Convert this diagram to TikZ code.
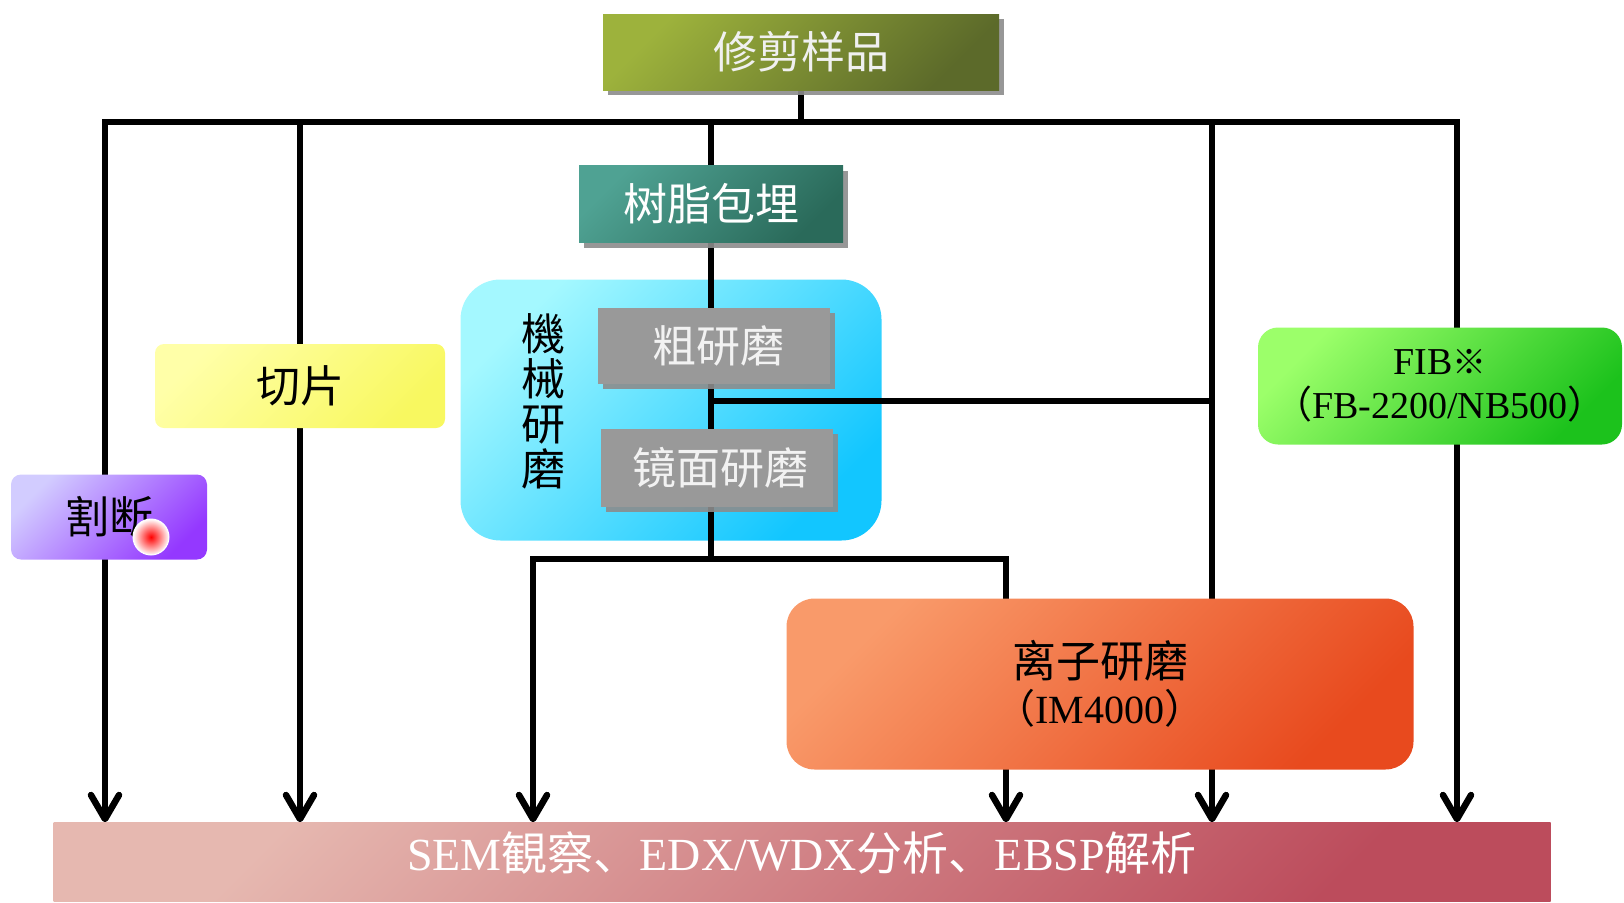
\documentclass[tikz,border=0pt]{standalone}
\usepackage{fontspec}
\setmainfont{Liberation Serif}
\newfontfamily\cjk{Noto Sans CJK SC}
\usetikzlibrary{arrows.meta,shadows}
\pgfdeclarelayer{back}
\pgfdeclarelayer{wires}
\pgfsetlayers{back,wires,main}
\definecolor{trimA}{HTML}{9DB23C}
\definecolor{trimB}{HTML}{5C6A2A}
\definecolor{resinA}{HTML}{4FA293}
\definecolor{resinB}{HTML}{2A6A5A}
\definecolor{cutA}{HTML}{FFFFA8}
\definecolor{cutB}{HTML}{F8F860}
\definecolor{sevA}{HTML}{D2CCFF}
\definecolor{sevB}{HTML}{9438FF}
\definecolor{mechA}{HTML}{A4F8FF}
\definecolor{mechB}{HTML}{12C6FF}
\definecolor{grayBox}{HTML}{999999}
\definecolor{ionA}{HTML}{F99A6A}
\definecolor{ionB}{HTML}{E84A1E}
\definecolor{fibA}{HTML}{9CFF6A}
\definecolor{fibB}{HTML}{1CC21C}
\definecolor{barA}{HTML}{E6B8B0}
\definecolor{barB}{HTML}{BC4C5C}
\tikzset{
  x=1pt, y=-1pt,
  grad/.style 2 args={top color=#1, bottom color=#2, shading angle=45},
  shadowed/.style={drop shadow={shadow xshift=5pt, shadow yshift=-5pt, fill=black!45, opacity=0.9}},
  zh/.style={font=\cjk\fontsize{44}{48}\selectfont},
  lat/.style={font=\fontsize{40}{44}\selectfont},
  box/.style={inner sep=0pt, align=center},
  wire/.style={line width=5.5pt, black, line cap=rect},
  arr/.style={-{Straight Barb[length=24pt, width=28pt, line width=6.5pt, round]}},
}
\begin{document}
\begin{tikzpicture}
\useasboundingbox (0,0) rectangle (1624,902);
% nodes
\node[box, shadowed, grad={trimA}{trimB}, minimum width=396pt, minimum height=76pt, zh, text=white!94!black] (trim) at (801,52) {修剪样品};
\node[box, shadowed, grad={resinA}{resinB}, minimum width=264pt, minimum height=77pt, zh, text=white] (resin) at (711,204) {树脂包埋};
\node[box, grad={cutA}{cutB}, rounded corners=9pt, minimum width=290pt, minimum height=84pt, zh] (qiepian) at (300,386) {切片};
\node[box, grad={sevA}{sevB}, rounded corners=10pt, minimum width=196pt, minimum height=85pt, zh] (sever) at (109,517) {割断};
\node[circle, inner sep=0pt, minimum size=36pt, shading=radial, inner color=red, outer color=white, draw=white, line width=1pt] (dot) at (151,537) {};
\begin{pgfonlayer}{back}
\node[box, grad={mechA}{mechB}, rounded corners=40pt, minimum width=421pt, minimum height=261pt] (mech) at (671,410) {};
\end{pgfonlayer}
\node[box, zh, font=\cjk\fontsize{44}{45}\selectfont] (mechlabel) at (543,401) {機\\械\\研\\磨};
\node[box, shadowed, fill=grayBox, minimum width=232pt, minimum height=76pt, zh, text=white!95!black] (coarse) at (714,346) {\hspace*{8pt}粗研磨};
\node[box, shadowed, fill=grayBox, minimum width=232pt, minimum height=78pt, zh, text=white!95!black] (mirror) at (717,468) {\hspace*{6pt}镜面研磨};
\node[box, grad={ionA}{ionB}, rounded corners=28pt, minimum width=627pt, minimum height=171pt, lat] (ion) at (1100,684) {{\cjk\fontsize{44}{48}\selectfont 离子研磨}\\[2pt]{\cjk （}IM4000{\cjk ）}};
\node[box, grad={fibA}{fibB}, rounded corners=20pt, minimum width=364pt, minimum height=117pt, lat, font=\fontsize{38}{44}\selectfont] (fib) at (1440,386) {FIB{\cjk\fontsize{34}{34}\selectfont ※}\\{\cjk （}FB-2200/NB500{\cjk ）}};
\node[box, grad={barA}{barB}, minimum width=1497pt, minimum height=79pt, text=white, text height=34pt, text depth=18pt, font=\fontsize{46}{50}\selectfont] (bar) at (802,862) {SEM{\cjk 観察、}EDX/WDX{\cjk 分析、}EBSP{\cjk 解析}};
% coordinates
\coordinate (tl) at (105,122);
\coordinate (tr) at (1457,122);
\coordinate (b1) at (711,401);
\coordinate (r1) at (1212,401);
\coordinate (m1) at (711,559);
\coordinate (l1) at (533,559);
\coordinate (l2) at (1006,559);
% wires
\begin{pgfonlayer}{wires}
\draw[wire] (trim.south) -- (trim.south |- tl);
\draw[wire] (tl) -- (tr);
\draw[wire, arr] (tl) -- (tl |- bar.north);
\draw[wire, arr] (qiepian |- tl) -- (qiepian |- bar.north);
\draw[wire] (resin |- tl) -- (resin.north);
\draw[wire] (resin.south) -- (m1);
\draw[wire] (b1) -- (r1);
\draw[wire] (r1 |- tl) -- (r1 |- ion.north);
\draw[wire, arr] (r1 |- ion.south) -- (r1 |- bar.north);
\draw[wire] (l1) -- (l2);
\draw[wire, arr] (l1) -- (l1 |- bar.north);
\draw[wire] (l2) -- (l2 |- ion.north);
\draw[wire, arr] (l2 |- ion.south) -- (l2 |- bar.north);
\draw[wire] (tr) -- (tr |- fib.north);
\draw[wire, arr] (tr |- fib.south) -- (tr |- bar.north);
\end{pgfonlayer}
\end{tikzpicture}
\end{document}
